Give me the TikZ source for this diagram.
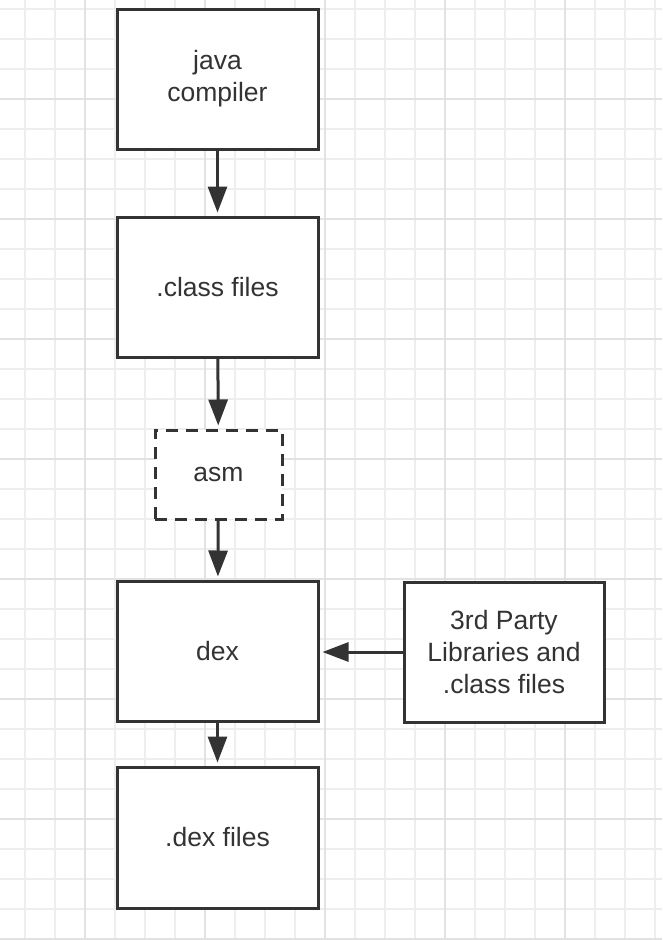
\documentclass[tikz,border=0pt]{standalone}
\usepackage{fontspec}
\setmainfont{Liberation Sans}
\usetikzlibrary{arrows.meta}
\definecolor{edge}{HTML}{333333}
\definecolor{gridminor}{HTML}{EEEEEE}
\definecolor{gridmajor}{HTML}{E2E2E2}
\begin{document}
\begin{tikzpicture}[x=1pt,y=-1pt,
  box/.style={draw=edge, line width=3pt, fill=white, rectangle, inner sep=0pt,
    minimum width=201pt, minimum height=140pt, align=center, text=edge,
    font=\fontsize{26.5}{32}\selectfont},
  dashbox/.style={box, dash pattern=on 12pt off 8pt, minimum width=127pt, minimum height=89pt},
  flow/.style={draw=edge, line width=3pt, -{Triangle[length=26pt,width=19pt]}, shorten >=3pt}]
\useasboundingbox (0,0) rectangle (662,940);
\fill[white] (0,0) rectangle (662,940);
% grid
\foreach \x in {25,55,...,655} \draw[gridminor, line width=1.5pt] (\x,0) -- (\x,940);
\foreach \y in {9,39,...,939} \draw[gridminor, line width=1.5pt] (0,\y) -- (662,\y);
\foreach \x in {85,205,...,565} \draw[gridmajor, line width=1.5pt] (\x,0) -- (\x,940);
\foreach \y in {99,219,...,939} \draw[gridmajor, line width=1.5pt] (0,\y) -- (662,\y);
% nodes
\node[box] (javac) at (217.5,79) {java\\compiler};
\node[box] (cls) at (217.5,287) {.class files};
\node[dashbox] (asm) at (218.5,474.5) {asm};
\node[box] (dex) at (217.5,651) {dex};
\node[box, minimum width=200pt] (lib) at (504,652) {3rd Party\\Libraries and\\.class files};
\node[box, minimum height=141pt] (dexf) at (217.5,837.5) {.dex files};
% connectors
\draw[flow] (javac) -- (cls);
\draw[flow] (cls) -- (asm);
\draw[flow] (asm) -- (dex);
\draw[flow] (dex) -- (dexf);
\draw[flow] (lib) -- (dex.east |- lib.west);
\end{tikzpicture}
\end{document}
